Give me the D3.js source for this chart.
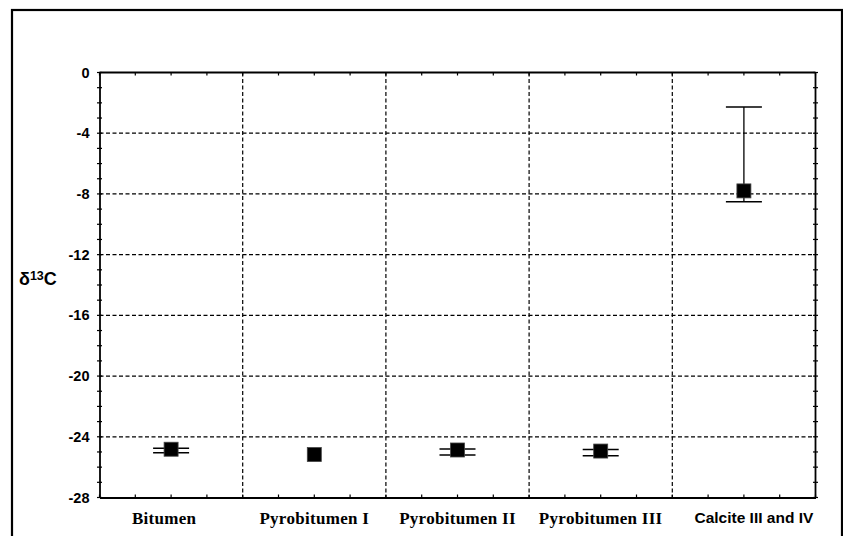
<!DOCTYPE html>
<html>
<head>
<meta charset="utf-8">
<script src="https://cdn.jsdelivr.net/npm/d3@7"></script>
<style>
  html, body { margin: 0; padding: 0; background: #fff; }
  svg { display: block; }
</style>
</head>
<body>
<svg id="chart" width="843" height="536"></svg>
<script>
// ---- data ----
const categories = ["Bitumen", "Pyrobitumen I", "Pyrobitumen II", "Pyrobitumen III", "Calcite III and IV"];
const means  = [-24.82, -25.17, -24.87, -24.94, -7.8];
const uppers = [-24.76, null, -24.80, -24.83, -2.28];
const lowers = [-25.05, null, -25.20, -25.25, -8.52];
const yTicks = [0, -4, -8, -12, -16, -20, -24, -28];
const yTitle = "δ";

// ---- layout ----
const svg = d3.select("#chart");
const L = 99.5, R = 815.5, T = 72.5, B = 497.5;

const x = d3.scaleBand().domain(categories).range([L, R]).padding(0);
const y = d3.scaleLinear().domain([-28, 0]).range([B, T]);

// outer frame
svg.append("rect")
  .attr("x", 12).attr("y", 10).attr("width", 830).attr("height", 540)
  .attr("fill", "none").attr("stroke", "#000").attr("stroke-width", 2.2);

const g = svg.append("g");

// horizontal grid
g.append("g").selectAll("line")
  .data(yTicks.filter(d => d !== 0 && d !== -28))
  .join("line")
  .attr("x1", L).attr("x2", R)
  .attr("y1", d => y(d)).attr("y2", d => y(d))
  .attr("stroke", "#000").attr("stroke-width", 1.2)
  .attr("stroke-dasharray", "4,2.5");

// vertical grid at category boundaries
g.append("g").selectAll("line")
  .data(categories.slice(1))
  .join("line")
  .attr("x1", d => x(d)).attr("x2", d => x(d))
  .attr("y1", T).attr("y2", B)
  .attr("stroke", "#000").attr("stroke-width", 1.2)
  .attr("stroke-dasharray", "4,2.5");

// minor ticks values
const yMinor = d3.range(-28, 1, 1);
const xMinorPos = d3.range(0, 5.001, 0.25).map(t => L + t * x.bandwidth());

// left axis
const leftAxis = d3.axisLeft(y).tickValues(yTicks).tickSize(0).tickPadding(10)
  .tickFormat(d => d === 0 ? "0" : "-" + Math.abs(d));
const la = g.append("g").attr("transform", `translate(${L},0)`).call(leftAxis);
la.select(".domain").attr("stroke-width", 1.8);
la.selectAll("text")
  .attr("font-family", "Liberation Sans, Arial, sans-serif")
  .attr("font-weight", "bold").attr("font-size", 14.5).attr("fill", "#000");

// left minor ticks (crossing)
g.append("g").selectAll("line").data(yMinor).join("line")
  .attr("x1", L - 2.5).attr("x2", L + 2.5)
  .attr("y1", d => y(d)).attr("y2", d => y(d))
  .attr("stroke", "#000").attr("stroke-width", 1.2);

// right axis
g.append("line").attr("x1", R).attr("x2", R).attr("y1", T).attr("y2", B)
  .attr("stroke", "#000").attr("stroke-width", 1.8);
g.append("g").selectAll("line").data(yMinor).join("line")
  .attr("x1", R - 2.5).attr("x2", R + 2.5)
  .attr("y1", d => y(d)).attr("y2", d => y(d))
  .attr("stroke", "#000").attr("stroke-width", 1.2);

// top axis
g.append("line").attr("x1", L).attr("x2", R).attr("y1", T).attr("y2", T)
  .attr("stroke", "#000").attr("stroke-width", 1.8);
g.append("g").selectAll("line").data(xMinorPos).join("line")
  .attr("x1", d => d).attr("x2", d => d)
  .attr("y1", T).attr("y2", T + 3)
  .attr("stroke", "#000").attr("stroke-width", 1.2);

// bottom axis
const bottomAxis = d3.axisBottom(x).tickSize(0).tickPadding(14);
const ba = g.append("g").attr("transform", `translate(0,${B})`).call(bottomAxis);
ba.select(".domain").attr("stroke-width", 1.8);
ba.selectAll("text")
  .attr("fill", "#000")
  .attr("font-weight", "bold")
  .attr("font-family", (d, i) => i === 4 ? "Liberation Sans, Arial, sans-serif" : "Liberation Serif, Times New Roman, serif")
  .attr("font-size", (d, i) => i === 4 ? 15.5 : 17)
  .attr("letter-spacing", (d, i) => i === 4 ? 0 : 0.3)
  .attr("dx", (d, i) => i === 4 ? 10 : (i === 0 ? -7 : 0));
g.append("g").selectAll("line").data(xMinorPos).join("line")
  .attr("x1", d => d).attr("x2", d => d)
  .attr("y1", B - 3).attr("y2", B)
  .attr("stroke", "#000").attr("stroke-width", 1.2);

// y axis title
const yt = svg.append("text")
  .attr("x", 19).attr("y", y(-14))
  .attr("font-family", "Liberation Sans, Arial, sans-serif")
  .attr("font-weight", "bold").attr("font-size", 18).attr("fill", "#000");
yt.append("tspan").text(yTitle);
yt.append("tspan").attr("font-size", 12.5).attr("dy", -5).text("13");
yt.append("tspan").attr("dy", 5).text("C");

// error bars
const cx = c => x(c) + x.bandwidth() / 2;
const capHalf = 18;
const pts = categories.map((c, i) => ({ c, m: means[i], u: uppers[i], l: lowers[i] }));
const eb = g.append("g").selectAll("g").data(pts.filter(d => d.u !== null)).join("g");
eb.append("line")
  .attr("x1", d => cx(d.c)).attr("x2", d => cx(d.c))
  .attr("y1", d => y(d.u)).attr("y2", d => y(d.l))
  .attr("stroke", "#000").attr("stroke-width", 1.3);
eb.append("line")
  .attr("x1", d => cx(d.c) - capHalf).attr("x2", d => cx(d.c) + capHalf)
  .attr("y1", d => y(d.u)).attr("y2", d => y(d.u))
  .attr("stroke", "#000").attr("stroke-width", 1.5);
eb.append("line")
  .attr("x1", d => cx(d.c) - capHalf).attr("x2", d => cx(d.c) + capHalf)
  .attr("y1", d => y(d.l)).attr("y2", d => y(d.l))
  .attr("stroke", "#000").attr("stroke-width", 1.5);

// markers
const ms = 14;
g.append("g").selectAll("rect").data(pts).join("rect")
  .attr("x", d => cx(d.c) - ms / 2).attr("y", d => y(d.m) - ms / 2)
  .attr("width", ms).attr("height", ms)
  .attr("fill", "#000").attr("stroke", "#444").attr("stroke-width", 0.8);
</script>
</body>
</html>
